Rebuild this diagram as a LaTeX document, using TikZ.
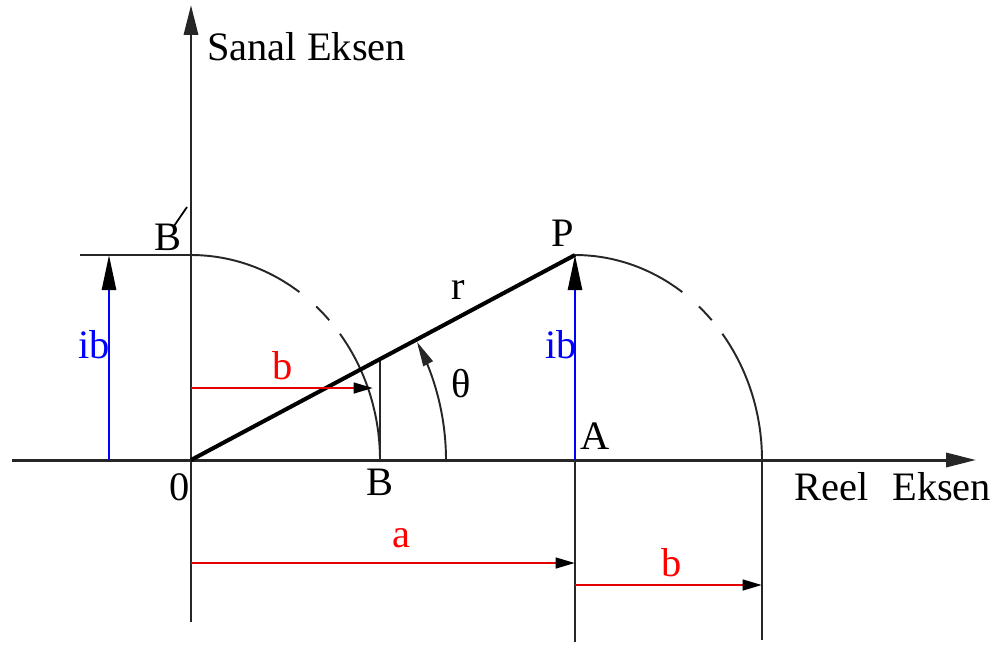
\documentclass[tikz,border=0pt]{standalone}
\usepackage{fontspec}
\setmainfont{Liberation Serif}
\usetikzlibrary{arrows.meta}
\begin{document}
\begin{tikzpicture}[x=0.02cm,y=-0.02cm,
  lbl/.style={inner sep=0pt,font=\fontsize{23}{27}\selectfont},
  axisline/.style={line width=1.7pt,black!85},
  thinline/.style={line width=1.1pt,black!85},
  arcline/.style={line width=1.1pt,black!85},
  radius line/.style={line width=2.3pt,black},
  redvec/.style={line width=1.5pt,red!90!black,-{Triangle[length=11pt,width=6pt,color=black]}},
  bluevec/.style={line width=1.5pt,blue,-{Triangle[length=20pt,width=8pt,color=black]}},
  axtip/.style={-{Triangle[length=17pt,width=8pt]}}]
\useasboundingbox (0,0) rectangle (999,646);
% key points
\coordinate (O) at (191,460);
\coordinate (P) at (575,255);
\coordinate (A) at (575,460);
\coordinate (B) at (380,460);
\coordinate (Bp) at (191,255);
\coordinate (E) at (762,460);
\coordinate (Ltop) at (109,255);
\coordinate (Lbot) at (109,460);
\coordinate (Hleft) at (80,255);
\coordinate (Bline) at (380,359);
% axes
\coordinate (Xs) at (12,460);
\coordinate (Xe) at (976,460);
\coordinate (Ys) at (191,622);
\coordinate (Ye) at (191,5);
\draw[axisline,axtip] (Xs) -- (Xe);
\draw[axisline,axtip] (Ys) -- (Ye);
% thin lines
\draw[thinline] (Hleft) -- (Bp);
\draw[thinline] (B) -- (Bline);
\coordinate (Abot) at (575,642);
\coordinate (Ebot) at (762,640);
\draw[thinline] (A) -- (Abot);
\draw[thinline] (E) -- (Ebot);
% arcs around O
\draw[arcline] plot[domain=90:55,samples=30] ({191+189*cos(\x)},{460-205*sin(\x)});
\draw[arcline] plot[domain=48.5:43,samples=10] ({191+189*cos(\x)},{460-205*sin(\x)});
\draw[arcline] plot[domain=38:0,samples=30] ({191+189*cos(\x)},{460-205*sin(\x)});
% arcs around A
\draw[arcline] plot[domain=90:55,samples=30] ({575+187*cos(\x)},{460-205*sin(\x)});
\draw[arcline] plot[domain=48.5:43,samples=10] ({575+187*cos(\x)},{460-205*sin(\x)});
\draw[arcline] plot[domain=38:0,samples=30] ({575+187*cos(\x)},{460-205*sin(\x)});
% theta arc
\draw[arcline,-{Triangle[length=14pt,width=6pt]}] plot[domain=0:27.6,samples=30] ({191+255*cos(\x)},{460-255*sin(\x)});
% r
\draw[radius line] (O) -- (P);
% vectors
\draw[bluevec] (Lbot) -- (Ltop);
\draw[bluevec] (A) -- (P);
\coordinate (bs) at (191,388);
\coordinate (be) at (373,388);
\draw[redvec] (bs) -- (be);
\coordinate (as) at (191,563);
\coordinate (ae) at (575,563);
\draw[redvec] (as) -- (ae);
\coordinate (cs) at (575,585);
\coordinate (ce) at (762,585);
\draw[redvec] (cs) -- (ce);
% prime stroke
\coordinate (pr1) at (174,226);
\coordinate (pr2) at (187,207);
\draw[line width=1pt] (pr1) -- (pr2);
% labels
\node[lbl,anchor=west] (sanal) at (207,47) {Sanal Eksen};
\node[lbl,anchor=west] (reel) at (794,487) {Reel\hspace{13.6pt}Eksen};
\node[lbl] (lBp) at (168,237) {B};
\node[lbl] (lP) at (563,233) {P};
\node[lbl] (lr) at (458,290) {r};
\node[lbl] (lth) at (461,384) {θ};
\node[lbl] (lA) at (595,436) {A};
\node[lbl] (l0) at (180,487) {0};
\node[lbl] (lB) at (380,482) {B};
\node[lbl,text=blue] (lib1) at (94,345) {ib};
\node[lbl,text=blue] (lib2) at (561,345) {ib};
\node[lbl,text=red] (lb1) at (283,366) {b};
\node[lbl,text=red] (la) at (401,538) {a};
\node[lbl,text=red] (lb2) at (672,563) {b};
\end{tikzpicture}
\end{document}
